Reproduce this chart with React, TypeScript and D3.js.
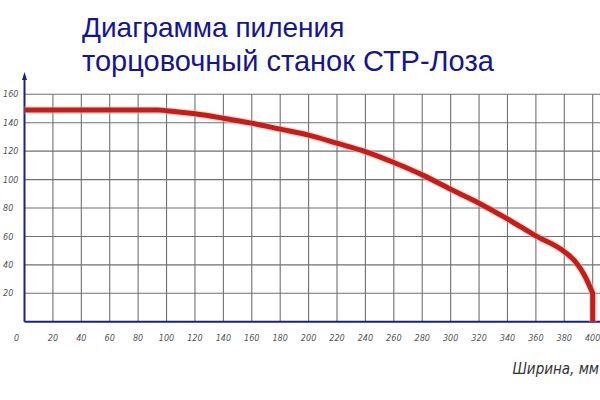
import { useMemo } from 'react';
import * as d3 from 'd3';

// width of cut, mm
const widths = [0, 94, 100, 120, 140, 160, 180, 200, 220, 240, 260, 280, 300, 320, 340, 360, 380, 388, 394, 400, 400];
// height of cut, mm
const heights = [149, 149, 148.5, 146.3, 143.2, 139.7, 135.5, 131.3, 125.6, 119.7, 112, 103.3, 93.2, 83.4, 72.3, 60.4, 49.3, 42, 33, 20, 0];

const xTicks = d3.range(0, 401, 20);
const yTicks = d3.range(20, 161, 20);
const titleLines = ['Диаграмма пиления', 'торцовочный станок СТР-Лоза'];
const xLabel = 'Ширина, мм';

const W = 600;
const H = 400;
const TICK_FONT = '"DejaVu Sans Condensed", "Liberation Sans Narrow", sans-serif';

export default function App() {
  const x = useMemo(() => d3.scaleLinear().domain([0, 400]).range([24.5, 592.7]), []);
  const y = useMemo(() => d3.scaleLinear().domain([0, 160]).range([321.7, 94.3]), []);

  // smooth envelope up to the last point, then a straight drop to the axis
  const n = heights.length - 1;
  const smooth = d3.line<number>()
    .x((_, i) => x(widths[i]))
    .y(d => y(d))
    .curve(d3.curveMonotoneX)(heights.slice(0, n)) ?? '';
  const path = `${smooth}L${x(widths[n])},${y(heights[n])}`;

  return (
    <div style={{ position: 'fixed', left: 0, top: 0, width: W, height: H, background: '#fff' }}>
      <svg width={W} height={H} style={{ display: 'block' }}>
        <rect width={W} height={H} fill="#fff" />

        {titleLines.map((t, i) => (
          <text key={t} x={82} y={37 + i * 34} fill="#16168c"
            fontFamily='"Liberation Sans", Arial, sans-serif' fontSize={i === 0 ? 28 : 29}>{t}</text>
        ))}

        {/* grid */}
        <g stroke="#707070" strokeWidth={1.1}>
          {xTicks.filter(t => t > 0).map(t => (
            <line key={'vx' + t} x1={x(t)} x2={x(t)} y1={y(160)} y2={y(0)} />
          ))}
          {yTicks.map(t => (
            <line key={'hy' + t} x1={x(0)} x2={W} y1={y(t)} y2={y(t)} />
          ))}
        </g>

        {/* axes */}
        <line x1={x(0)} x2={W} y1={y(0)} y2={y(0)} stroke="#1c2280" strokeWidth={2} />
        <line x1={x(0)} x2={x(0)} y1={y(0)} y2={78} stroke="#1c2280" strokeWidth={2} />
        <path d={`M${x(0) - 2.5},${80} L${x(0)},${72} L${x(0) + 2.5},${80} Z`} fill="#1c2280" />

        {/* tick labels */}
        <g fontFamily={TICK_FONT} fontStyle="italic" fontSize={9} fill="#555">
          {yTicks.map(t => (
            <text key={'yl' + t} x={3} y={y(t)} dy="0.35em">{t}</text>
          ))}
          {xTicks.map(t => (
            <text key={'xl' + t} x={x(t)} dx={t === 0 ? -8 : 0} y={341} textAnchor="middle">{t}</text>
          ))}
        </g>

        <text x={599} y={374} textAnchor="end" fontFamily={TICK_FONT} fontStyle="italic"
          fontSize={15} fill="#333">{xLabel}</text>

        {/* cutting envelope */}
        <path d={path} fill="none" stroke="#f4b0a8" strokeWidth={7.5} strokeOpacity={0.5}
          strokeLinejoin="round" />
        <path d={path} fill="none" stroke="#c0201c" strokeWidth={5}
          strokeLinejoin="round" />
      </svg>
    </div>
  );
}
